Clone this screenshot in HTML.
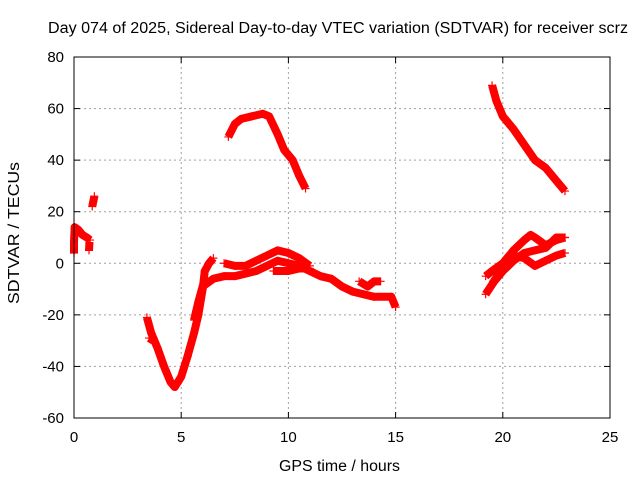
<!DOCTYPE html>
<html><head><meta charset="utf-8"><style>
body{margin:0;background:#fff}
svg{display:block;font-family:"Liberation Sans",sans-serif}
</style></head><body>
<svg id="c" width="640" height="480">
<rect x="0" y="0" width="640" height="480" fill="#fff"/>
<text x="48" y="33" font-size="15.5" textLength="580" lengthAdjust="spacingAndGlyphs">Day 074 of 2025, Sidereal Day-to-day VTEC variation (SDTVAR) for receiver scrz</text>
<text x="279" y="471" font-size="15.5" textLength="121" lengthAdjust="spacingAndGlyphs">GPS time / hours</text>
<text x="0" y="0" font-size="15.5" textLength="142" lengthAdjust="spacingAndGlyphs" transform="translate(19 304) rotate(-90)">SDTVAR / TECUs</text>
<g id="grid"></g><g id="ticks"></g><g id="marks"></g>
<rect x="74" y="57" width="536" height="361" fill="none" stroke="#000"/>
</svg>
<script>
const xTicks=[0,5,10,15,20,25];
const yTicks=[-60,-40,-20,0,20,40,60,80];
const seriesA=[[0,4],[0,8],[0.03,14],[0.2,13],[0.4,11],[0.6,10],[0.75,9]];
const seriesA2=[[0.7,5],[0.72,8]];
const seriesA3=[[0.85,22],[0.9,24],[0.95,26]];
const seriesB=[[3.4,-21],[3.6,-27],[3.9,-33],[4.2,-40],[4.5,-46],[4.7,-48],[5.0,-44],[5.3,-36],[5.6,-27],[5.8,-20],[6.0,-10],[6.1,-3],[6.3,0],[6.5,2]];
const seriesB0=[[3.5,-29],[3.7,-30]];
const seriesC=[[5.6,-22],[5.8,-15],[6.0,-9],[6.5,-6],[7.0,-5],[7.5,-5],[8,-4],[8.5,-3],[9,-1],[9.5,1],[10,0],[10.5,-1],[11,-3],[11.5,-5],[12,-6],[12.5,-9],[13,-11],[13.5,-12],[14,-13],[14.8,-13],[15,-17]];
const seriesD=[[7,0],[7.5,-1],[8,-1],[8.5,1],[9,3],[9.5,5],[10,4],[10.5,2],[11,-1]];
const seriesE=[[9.3,-3],[10,-3],[10.5,-2],[11,-2]];
const seriesF=[[13.3,-7],[13.7,-9],[14,-7],[14.3,-7]];
const seriesG=[[7.2,49],[7.5,54],[7.8,56],[8.3,57],[8.8,58],[9.1,57],[9.5,50],[9.8,44],[10.2,40],[10.5,34],[10.8,29]];
const seriesH=[[19.5,69],[19.7,63],[20,57],[20.5,52],[21,46],[21.5,40],[22,37],[22.5,32],[22.9,28]];
const seriesI=[[19.2,-5],[19.5,-3],[20,0],[20.5,5],[21,9],[21.3,11],[21.5,10],[22,7],[22.5,9],[22.9,10]];
const seriesJ=[[19.2,-12],[19.6,-7],[20,-3],[20.5,1],[21,4],[21.5,5],[22,6],[22.5,10],[22.9,10]];
const seriesK=[[19.5,-8],[20,-2],[20.5,3],[21,2],[21.5,-1],[22,1],[22.5,3],[22.9,4]];
const allSeries=[seriesA,seriesA2,seriesA3,seriesB,seriesB0,seriesC,seriesD,seriesE,seriesF,seriesG,seriesH,seriesI,seriesJ,seriesK];
const X0=74,X1=610,Y0=418,Y1=57;
const sx=v=>X0+(v-0)/(25-0)*(X1-X0);
const sy=v=>Y0-(v+60)/140*(Y0-Y1);
const NS="http://www.w3.org/2000/svg";
const grid=document.getElementById('grid'),ticks=document.getElementById('ticks'),marks=document.getElementById('marks');
function mk(tag,attrs,parent){const e=document.createElementNS(NS,tag);for(const k in attrs)e.setAttribute(k,attrs[k]);parent.appendChild(e);return e;}
xTicks.forEach(t=>{
 const x=sx(t);
 if(t>0&&t<25){const g=mk('line',{x1:x,x2:x,y1:Y1,y2:Y0,stroke:'#a0a0a0','stroke-dasharray':'2,3'},grid);
 
 }
 mk('line',{x1:x,x2:x,y1:Y0,y2:Y0-6,stroke:'#000'},ticks);mk('line',{x1:x,x2:x,y1:Y1,y2:Y1+6,stroke:'#000'},ticks);
 const l=mk('text',{x:x,y:Y0+24,'font-size':15,'text-anchor':'middle'},ticks);l.textContent=t;
 
 
});
yTicks.forEach(t=>{
 const y=sy(t);
 if(t>-60&&t<80){const g=mk('line',{x1:X0,x2:X1,y1:y,y2:y,stroke:'#a0a0a0','stroke-dasharray':'2,3'},grid);
 
 }
 mk('line',{x1:X0,x2:X0+6,y1:y,y2:y,stroke:'#000'},ticks);mk('line',{x1:X1,x2:X1-6,y1:y,y2:y,stroke:'#000'},ticks);
 const l=mk('text',{x:X0-10,y:y+5,'font-size':15,'text-anchor':'end'},ticks);l.textContent=t;
 
 
});
allSeries.forEach((s,i)=>{
 const p=mk('polyline',{points:s.map(d=>sx(d[0])+','+sy(d[1])).join(' '),fill:'none',stroke:'#f00','stroke-width':8,'stroke-linejoin':'round','stroke-linecap':'butt'},marks);
 
 
 s.forEach(d=>{const x=sx(d[0]),y=sy(d[1]);
  const m=mk('path',{d:`M${x-4},${y}H${x+4}M${x},${y-4}V${y+4}`,stroke:'#f00','stroke-width':1.2},marks);
  
  });
});
</script>
</body></html>
